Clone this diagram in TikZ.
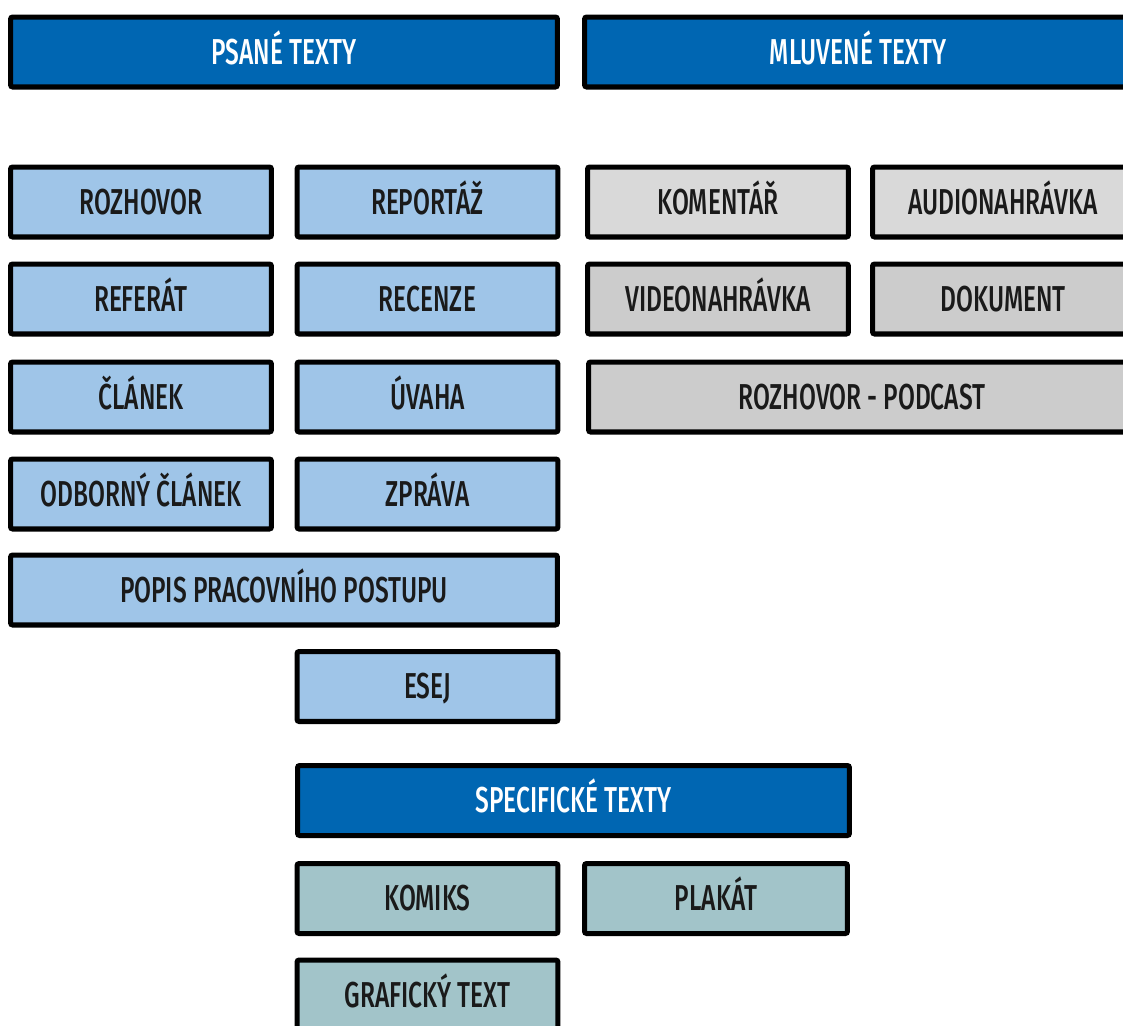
\documentclass[tikz,border=0pt]{standalone}
\usepackage{fontspec}
\setmainfont{Fira Sans}[UprightFont=* Medium, FakeStretch=0.68]
\definecolor{headblue}{HTML}{0066B2}
\definecolor{paleblue}{HTML}{9FC5E8}
\definecolor{palegray}{HTML}{D9D9D9}
\definecolor{midgray}{HTML}{CCCCCC}
\definecolor{paleteal}{HTML}{A2C4C9}
\definecolor{inkdark}{HTML}{1A1A1A}
\begin{document}
\begin{tikzpicture}[x=0.02cm, y=-0.02cm,
    box/.style={rectangle, draw=black, line width=2.85pt, rounded corners=1.2pt,
        inner sep=0pt, minimum height=1.4cm, minimum width=5.22cm,
        text height=14pt, text depth=0pt,
        font=\fontsize{20.5}{24}\selectfont, text=inkdark},
    wide/.style={box, minimum width=10.94cm},
    head/.style={wide, fill=headblue, text=white},
    written/.style={box, fill=paleblue},
    spoken/.style={box, fill=midgray},
    special/.style={box, fill=paleteal}]
    \useasboundingbox (0, 0) rectangle (1123, 1025);
    \clip (0, 0) rectangle (1123, 1025);

    % headers
    \node[head] (psane) at (284, 52) {PSANÉ TEXTY};
    \node[head] (mluvene) at (858, 52) {MLUVENÉ TEXTY};

    % psane texty
    \node[written] (rozhovor) at (141, 202) {ROZHOVOR};
    \node[written] (reportaz) at (427.5, 202) {REPORTÁŽ};
    \node[written] (referat) at (141, 299) {REFERÁT};
    \node[written] (recenze) at (427.5, 299) {RECENZE};
    \node[written] (clanek) at (141, 397) {ČLÁNEK};
    \node[written] (uvaha) at (427.5, 397) {ÚVAHA};
    \node[written] (odborny) at (141, 494) {ODBORNÝ ČLÁNEK};
    \node[written] (zprava) at (427.5, 494) {ZPRÁVA};
    \node[written, wide] (popis) at (284, 590) {POPIS PRACOVNÍHO POSTUPU};
    \node[written] (esej) at (427.5, 686.5) {ESEJ};

    % mluvene texty
    \node[spoken, fill=palegray] (komentar) at (718, 202) {KOMENTÁŘ};
    \node[spoken, fill=palegray] (audio) at (1003, 202) {AUDIONAHRÁVKA};
    \node[spoken] (video) at (718, 299) {VIDEONAHRÁVKA};
    \node[spoken] (dokument) at (1003, 299) {DOKUMENT};
    \node[spoken, wide] (podcast) at (862, 397) {ROZHOVOR - PODCAST};

    % specificke texty
    \node[head, minimum width=11.04cm] (specificke) at (573.5, 800.5) {SPECIFICKÉ TEXTY};
    \node[special] (komiks) at (427.5, 898.5) {KOMIKS};
    \node[special, minimum width=5.26cm] (plakat) at (716, 898.5) {PLAKÁT};
    \node[special] (graficky) at (427.5, 995) {GRAFICKÝ TEXT};
\end{tikzpicture}
\end{document}
